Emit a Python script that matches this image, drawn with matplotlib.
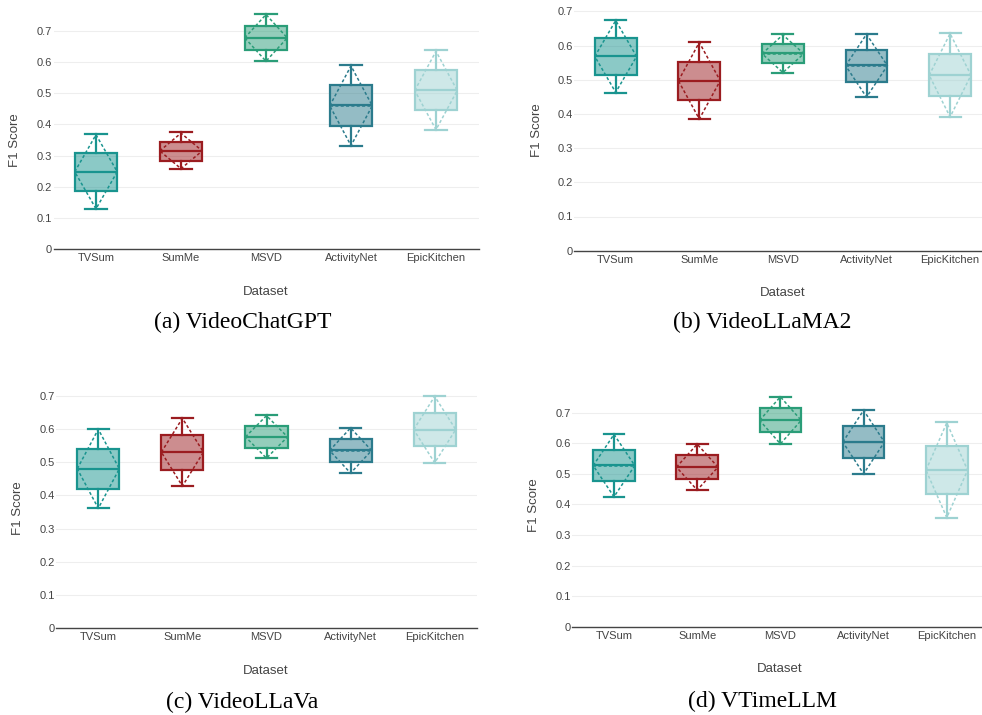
import matplotlib.pyplot as plt

W, H = 982, 715

datasets = ['TVSum', 'SumMe', 'MSVD', 'ActivityNet', 'EpicKitchen']
colors = ['#19948f', '#9b1c20', '#2a9d78', '#2b7b8c', '#9ed2d2']
models = ['(a) VideoChatGPT', '(b) VideoLLaMA2', '(c) VideoLLaVa', '(d) VTimeLLM']

# per model: lower whisker, q1, median, q3, upper whisker, mean, sd
chatgpt_lo = [0.127, 0.256, 0.603, 0.330, 0.381]
chatgpt_q1 = [0.187, 0.284, 0.639, 0.394, 0.445]
chatgpt_med = [0.248, 0.316, 0.679, 0.461, 0.511]
chatgpt_q3 = [0.308, 0.345, 0.717, 0.527, 0.575]
chatgpt_hi = [0.368, 0.375, 0.755, 0.592, 0.639]
chatgpt_mean = [0.248, 0.315, 0.678, 0.460, 0.509]
chatgpt_sd = [0.119, 0.057, 0.075, 0.128, 0.126]

llama_lo = [0.462, 0.384, 0.520, 0.449, 0.392]
llama_q1 = [0.515, 0.441, 0.548, 0.494, 0.452]
llama_med = [0.569, 0.497, 0.577, 0.542, 0.514]
llama_q3 = [0.622, 0.553, 0.604, 0.587, 0.575]
llama_hi = [0.675, 0.609, 0.633, 0.635, 0.636]
llama_mean = [0.568, 0.497, 0.576, 0.541, 0.513]
llama_sd = [0.105, 0.112, 0.055, 0.092, 0.122]

llava_lo = [0.361, 0.427, 0.512, 0.467, 0.498]
llava_q1 = [0.420, 0.477, 0.543, 0.501, 0.548]
llava_med = [0.480, 0.530, 0.577, 0.537, 0.598]
llava_q3 = [0.540, 0.581, 0.609, 0.570, 0.649]
llava_hi = [0.599, 0.632, 0.642, 0.603, 0.699]
llava_mean = [0.480, 0.530, 0.576, 0.535, 0.598]
llava_sd = [0.119, 0.102, 0.064, 0.068, 0.100]

vtime_lo = [0.425, 0.447, 0.599, 0.500, 0.356]
vtime_q1 = [0.476, 0.484, 0.636, 0.552, 0.434]
vtime_med = [0.528, 0.522, 0.675, 0.604, 0.513]
vtime_q3 = [0.579, 0.561, 0.714, 0.657, 0.590]
vtime_hi = [0.631, 0.598, 0.752, 0.709, 0.669]
vtime_mean = [0.527, 0.522, 0.675, 0.604, 0.512]
vtime_sd = [0.102, 0.075, 0.077, 0.104, 0.155]

all_stats = [
    (chatgpt_lo, chatgpt_q1, chatgpt_med, chatgpt_q3, chatgpt_hi, chatgpt_mean, chatgpt_sd),
    (llama_lo, llama_q1, llama_med, llama_q3, llama_hi, llama_mean, llama_sd),
    (llava_lo, llava_q1, llava_med, llava_q3, llava_hi, llava_mean, llava_sd),
    (vtime_lo, vtime_q1, vtime_med, vtime_q3, vtime_hi, vtime_mean, vtime_sd),
]

# layout in pixels: first category x, category spacing, y of zero, px per 0.1, y top
layout = [
    (96.0, 85.0, 249.0, 31.14, 0.78),
    (615.7, 83.6, 250.7, 34.2, 0.73),
    (98.3, 84.1, 628.3, 33.23, 0.72),
    (614.0, 83.2, 626.7, 30.57, 0.78),
]
captions_xy = [(243, 322), (762, 322), (242, 702), (762, 701)]
xlabel_xy = [(266, 292), (783, 293), (266, 671), (780, 669)]
ylabel_xy = [(15, 140), (537, 130), (18, 508), (534, 505)]

plt.rcParams['font.family'] = ['Liberation Sans', 'DejaVu Sans']
fig = plt.figure(figsize=(W / 100, H / 100), dpi=100)

bw = 0.5
for k in range(4):
    cat0, sp, y0, per, top = layout[k]
    left = cat0 - 0.5 * sp
    width = 5 * sp
    height = top * per * 10
    ax = fig.add_axes([left / W, (H - y0) / H, width / W, height / H])
    lo, q1, med, q3, hi, mean, sd = all_stats[k]
    for i in range(5):
        c = colors[i]
        st = [{'whislo': lo[i], 'q1': q1[i], 'med': med[i], 'q3': q3[i],
               'whishi': hi[i], 'fliers': []}]
        ax.bxp(st, positions=[i], widths=bw, capwidths=bw * 0.5,
               patch_artist=True, showfliers=False,
               boxprops=dict(facecolor=c, alpha=1, edgecolor=c, linewidth=1.6),
               medianprops=dict(color=c, linewidth=1.6),
               whiskerprops=dict(color=c, linewidth=1.6),
               capprops=dict(color=c, linewidth=1.6))
        for p in ax.patches[-1:]:
            p.set_facecolor(c)
            p.set_alpha(None)
            fc = list(plt.matplotlib.colors.to_rgba(c))
            fc[3] = 0.5
            p.set_facecolor(fc)
        m, s = mean[i], sd[i]
        ax.plot([i - bw / 2, i, i + bw / 2, i, i - bw / 2],
                [m, m + s, m, m - s, m], ls=(0, (2, 1.5)), color=c, lw=1.1)
        ax.plot([i - bw / 2, i + bw / 2], [m, m], ls=(0, (2, 1.5)), color=c, lw=1.1)
    ax.set_xlim(-0.5, 4.5)
    ax.set_ylim(0, top)
    ax.set_yticks([0, 0.1, 0.2, 0.3, 0.4, 0.5, 0.6, 0.7])
    ax.set_yticklabels(['0', '0.1', '0.2', '0.3', '0.4', '0.5', '0.6', '0.7'])
    ax.set_xticks(range(5))
    ax.set_xticklabels(datasets)
    ax.tick_params(length=0, labelsize=8, colors='#444444')
    ax.tick_params(axis='y', pad=1)
    ax.tick_params(axis='x', pad=3)
    ax.grid(axis='y', color='#eeeeee', lw=0.8)
    ax.set_axisbelow(True)
    for sname in ['top', 'right', 'left']:
        ax.spines[sname].set_visible(False)
    ax.spines['bottom'].set_color('#444444')
    ax.spines['bottom'].set_linewidth(1.0)

    fig.text(xlabel_xy[k][0] / W, 1 - xlabel_xy[k][1] / H, 'Dataset',
             ha='center', va='center', fontsize=9.5, color='#444444')
    fig.text(ylabel_xy[k][0] / W, 1 - ylabel_xy[k][1] / H, 'F1 Score',
             ha='center', va='center', rotation=90, fontsize=9.5, color='#444444')
    fig.text(captions_xy[k][0] / W, 1 - captions_xy[k][1] / H, models[k],
             ha='center', va='center', fontsize=17, family='Liberation Serif')

fig.savefig('out.png', dpi=100)
